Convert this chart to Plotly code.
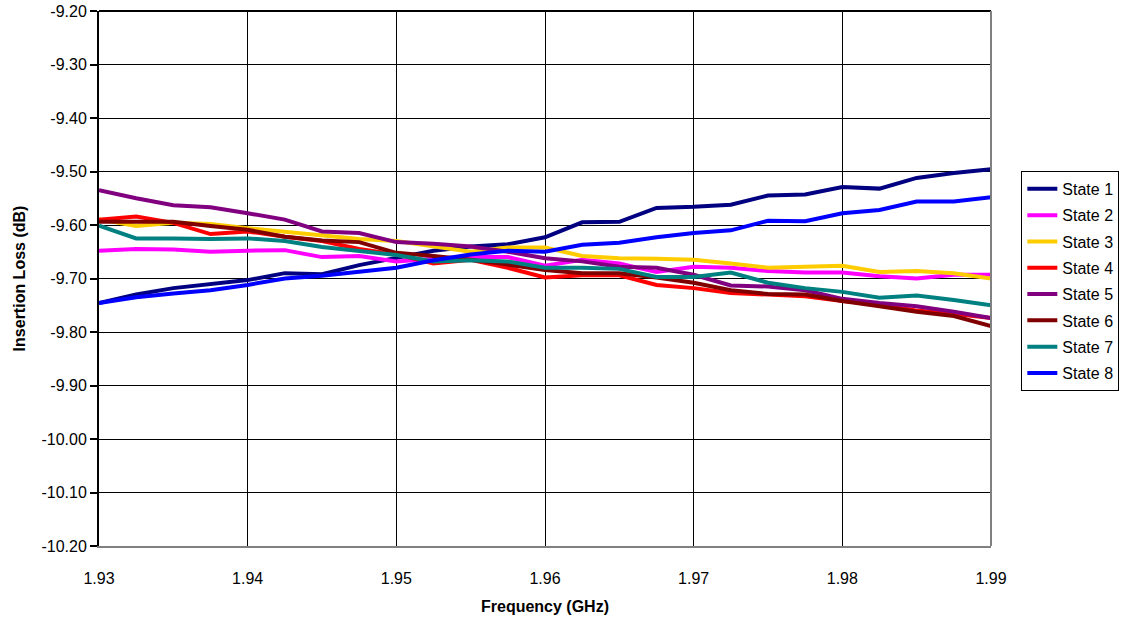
import plotly.graph_objects as go

freq = [1.93, 1.9325, 1.935, 1.9375, 1.94, 1.9425, 1.945, 1.9475, 1.95, 1.9525,
        1.955, 1.9575, 1.96, 1.9625, 1.965, 1.9675, 1.97, 1.9725, 1.975, 1.9775,
        1.98, 1.9825, 1.985, 1.9875, 1.99]

state1 = [-9.746, -9.730, -9.718, -9.710, -9.703, -9.690, -9.692, -9.675, -9.662, -9.648,
          -9.640, -9.636, -9.623, -9.595, -9.594, -9.568, -9.566, -9.562, -9.545, -9.543,
          -9.529, -9.532, -9.512, -9.503, -9.496]
state2 = [-9.648, -9.645, -9.646, -9.650, -9.648, -9.647, -9.660, -9.658, -9.668, -9.663,
          -9.660, -9.660, -9.676, -9.665, -9.672, -9.688, -9.678, -9.680, -9.686, -9.689,
          -9.689, -9.696, -9.700, -9.693, -9.693]
state3 = [-9.589, -9.602, -9.596, -9.598, -9.606, -9.613, -9.620, -9.626, -9.630, -9.640,
          -9.650, -9.642, -9.642, -9.658, -9.662, -9.663, -9.665, -9.672, -9.680, -9.678,
          -9.676, -9.688, -9.686, -9.690, -9.700]
state4 = [-9.590, -9.584, -9.596, -9.617, -9.612, -9.622, -9.630, -9.645, -9.655, -9.672,
          -9.665, -9.680, -9.698, -9.694, -9.694, -9.712, -9.718, -9.727, -9.730, -9.733,
          -9.742, -9.748, -9.760, -9.766, -9.774]
state5 = [-9.535, -9.550, -9.563, -9.567, -9.578, -9.590, -9.612, -9.615, -9.632, -9.635,
          -9.640, -9.650, -9.662, -9.668, -9.678, -9.680, -9.693, -9.713, -9.715, -9.722,
          -9.738, -9.746, -9.752, -9.762, -9.774]
state6 = [-9.594, -9.594, -9.594, -9.602, -9.609, -9.622, -9.629, -9.632, -9.652, -9.658,
          -9.665, -9.674, -9.684, -9.690, -9.690, -9.698, -9.708, -9.722, -9.729, -9.730,
          -9.742, -9.752, -9.762, -9.770, -9.789]
state7 = [-9.601, -9.625, -9.625, -9.626, -9.625, -9.630, -9.641, -9.648, -9.656, -9.668,
          -9.666, -9.668, -9.680, -9.680, -9.682, -9.697, -9.697, -9.689, -9.708, -9.718,
          -9.725, -9.736, -9.732, -9.740, -9.750]
state8 = [-9.746, -9.735, -9.728, -9.722, -9.712, -9.700, -9.695, -9.688, -9.680, -9.666,
          -9.655, -9.648, -9.650, -9.637, -9.633, -9.623, -9.615, -9.610, -9.592, -9.593,
          -9.578, -9.572, -9.556, -9.556, -9.548]

names = ["State 1", "State 2", "State 3", "State 4", "State 5", "State 6", "State 7", "State 8"]
series = [state1, state2, state3, state4, state5, state6, state7, state8]
colors = ["#000080", "#FF00FF", "#FFCC00", "#FF0000", "#800080", "#800000", "#008080", "#0000FF"]

xticks = [1.93, 1.94, 1.95, 1.96, 1.97, 1.98, 1.99]
xtick_labels = ["1.93", "1.94", "1.95", "1.96", "1.97", "1.98", "1.99"]
yticks = [-9.2, -9.3, -9.4, -9.5, -9.6, -9.7, -9.8, -9.9, -10.0, -10.1, -10.2]
ytick_labels = ["-9.20", "-9.30", "-9.40", "-9.50", "-9.60", "-9.70", "-9.80", "-9.90",
                "-10.00", "-10.10", "-10.20"]

font_family = "Liberation Sans, Arial, sans-serif"

fig = go.Figure()
for name, ys, col in zip(names, series, colors):
    fig.add_trace(go.Scatter(x=freq, y=ys, mode="lines", name=name, legendgroup=name,
                             line=dict(color=col, width=4)))

fig.update_layout(
    width=1125, height=622,
    margin=dict(l=99, r=134, t=11, b=76, autoexpand=False),
    paper_bgcolor="white", plot_bgcolor="white",
    font=dict(family=font_family, size=16, color="black"),
    showlegend=True,
    legend=dict(x=1.034, y=0.701, xanchor="left", yanchor="top",
                bordercolor="black", borderwidth=1, bgcolor="white",
                font=dict(size=16, family=font_family), tracegroupgap=2.5,
                itemwidth=30),
    xaxis=dict(range=[1.93, 1.99], tickvals=xticks, ticktext=xtick_labels,
               showgrid=True, gridcolor="black", gridwidth=1,
               showline=True, linecolor="#808080", linewidth=2,
               ticks="outside", ticklen=17, tickcolor="rgba(0,0,0,0)",
               zeroline=False, automargin=False, ticklabeloverflow="allow",
               title=dict(text="<b>Frequency (GHz)</b>", font=dict(size=16), standoff=15)),
    yaxis=dict(range=[-10.2, -9.2], tickvals=yticks, ticktext=ytick_labels,
               showgrid=True, gridcolor="black", gridwidth=1,
               showline=True, linecolor="black", linewidth=2,
               ticks="outside", ticklen=7, tickcolor="black", tickwidth=1.5,
               zeroline=False, automargin=False, ticklabeloverflow="allow",
               title=dict(text="<b>Insertion Loss (dB)</b>", font=dict(size=16), standoff=12)),
)

fig.add_shape(type="line", xref="paper", yref="paper", x0=0, x1=1, y0=1, y1=1,
              line=dict(color="black", width=2))
fig.add_shape(type="line", xref="paper", yref="paper", x0=1, x1=1, y0=0, y1=1,
              line=dict(color="#808080", width=2))

fig.write_html("out.html",
               config={"displayModeBar": False, "responsive": False},
               post_script="document.body.style.margin='0';document.body.style.overflow='hidden';")
